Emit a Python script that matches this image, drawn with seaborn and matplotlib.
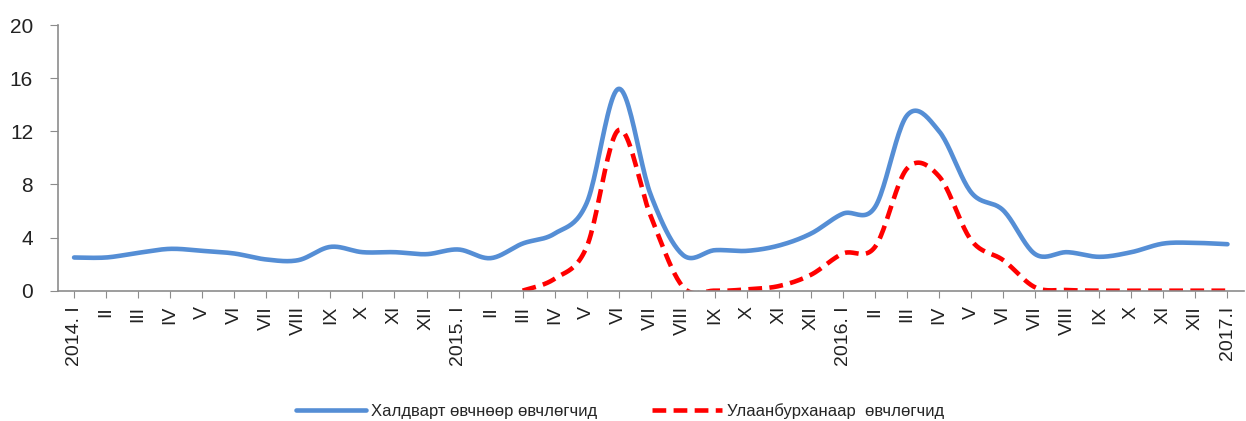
"""Monthly incidence of infectious disease and measles, 2014-2017 (smoothed lines)."""

import matplotlib
matplotlib.use("Agg")
import matplotlib.pyplot as plt
import numpy as np
import pandas as pd
import seaborn as sns

MONTH_LABELS = [
    "2014. I", "II", "III", "IV", "V", "VI", "VII", "VIII", "IX", "X", "XI", "XII",
    "2015. I", "II", "III", "IV", "V", "VI", "VII", "VIII", "IX", "X", "XI", "XII",
    "2016. I", "II", "III", "IV", "V", "VI", "VII", "VIII", "IX", "X", "XI", "XII",
    "2017.I",
]

INFECTIOUS = [
    2.5, 2.5, 2.85, 3.15, 3.0, 2.8, 2.35, 2.3, 3.3, 2.9, 2.9, 2.75,
    3.1, 2.45, 3.55, 4.3, 6.6, 15.2, 7.2, 2.7, 3.05, 3.0, 3.4, 4.3,
    5.8, 6.3, 13.2, 12.0, 7.4, 6.05, 2.75, 2.9, 2.55, 2.9, 3.55, 3.6,
    3.5,
]

MEASLES = [
    None, None, None, None, None, None, None, None, None, None, None, None,
    None, None, 0.0, 0.9, 3.3, 12.1, 5.6, 0.3, 0.0, 0.1, 0.35, 1.2,
    2.8, 3.3, 9.2, 8.6, 3.8, 2.3, 0.25, 0.05, 0.0, 0.0, 0.0, 0.0,
    0.0,
]

LEGEND_LABELS = ["Халдварт өвчнөөр өвчлөгчид", "Улаанбурханаар  өвчлөгчид"]

BLUE = "#558ED5"
RED = "#FF0000"
AXIS_GREY = "#8C8C8C"


def smooth(values, steps=24):
    """Excel-like smoothed line: cubic Bezier through each point (Catmull-Rom)."""
    xs, ys = [], []
    idx = [i for i, v in enumerate(values) if v is not None]
    pts = np.array([[i, values[i]] for i in idx], dtype=float)
    n = len(pts)
    t = np.linspace(0, 1, steps)
    for k in range(n - 1):
        p0 = pts[max(k - 1, 0)]
        p1 = pts[k]
        p2 = pts[k + 1]
        p3 = pts[min(k + 2, n - 1)]
        c1 = p1 + (p2 - p0) / 6
        c2 = p2 - (p3 - p1) / 6
        seg = (((1 - t) ** 3)[:, None] * p1 + (3 * (1 - t) ** 2 * t)[:, None] * c1
               + (3 * (1 - t) * t ** 2)[:, None] * c2 + (t ** 3)[:, None] * p2)
        xs.extend(seg[:, 0])
        ys.extend(seg[:, 1])
    return pd.DataFrame({"x": xs, "y": ys})


def main() -> None:
    sns.set_style("white")
    plt.rcParams["font.family"] = ["Liberation Sans", "DejaVu Sans"]

    fig = plt.figure(figsize=(12.46, 4.21), dpi=100)
    ax = fig.add_axes([0.0466, 0.3095, 0.9514, 0.6311])

    blue_df = smooth(INFECTIOUS)
    red_df = smooth(MEASLES)
    sns.lineplot(data=blue_df, x="x", y="y", ax=ax, sort=False, estimator=None,
                 color=BLUE, lw=3.3, label=LEGEND_LABELS[0])
    sns.lineplot(data=red_df, x="x", y="y", ax=ax, sort=False, estimator=None,
                 color=RED, lw=3.3, linestyle=(0, (3, 1.6)), label=LEGEND_LABELS[1])

    ax.set_xlim(-0.5, 36.5)
    ax.set_ylim(0, 20)
    ax.set_yticks([0, 4, 8, 12, 16, 20])
    ax.set_xticks(range(len(MONTH_LABELS)))
    ax.set_xticklabels(MONTH_LABELS, rotation=90, fontsize=14)
    ax.tick_params(axis="y", labelsize=15, length=6, color=AXIS_GREY, pad=12,
                   direction="out", left=True, labelcolor="#222222")
    ax.tick_params(axis="x", length=5, color=AXIS_GREY, pad=6, direction="out",
                   bottom=True, labelcolor="#222222")
    ax.set_xlabel("")
    ax.set_ylabel("")

    for side in ["top", "right"]:
        ax.spines[side].set_visible(False)
    for side in ["left", "bottom"]:
        ax.spines[side].set_color(AXIS_GREY)
        ax.spines[side].set_linewidth(1.2)

    handles, labels = ax.get_legend_handles_labels()
    ax.get_legend().remove()
    fig.legend(handles, labels, loc="center", bbox_to_anchor=(620 / 1246, 1 - 411 / 421),
               ncol=2, frameon=False, fontsize=12, handlelength=4.2,
               columnspacing=3.3, handletextpad=0.3)

    fig.savefig("out.png", dpi=100)
    plt.close(fig)


if __name__ == "__main__":
    main()
